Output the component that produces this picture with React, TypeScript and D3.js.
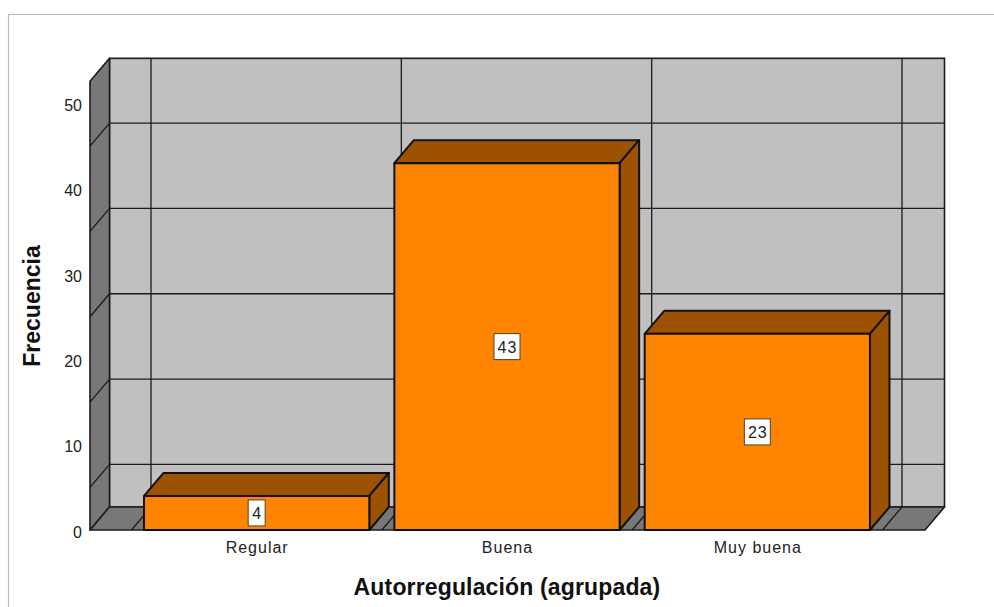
import React from "react";
import * as d3 from "d3";

const categories = ["Regular", "Buena", "Muy buena"];
const frequencies = [4, 43, 23];
const yTicks = [0, 10, 20, 30, 40, 50];
const gridValues = [5, 15, 25, 35, 45];
const xTitle = "Autorregulación (agrupada)";
const yTitle = "Frecuencia";

const W = 994, H = 607;
const left = 90, right = 925, bottom = 530;
const depthX = 19.5, depthY = 23;
const yMax = 52.6;
const font = "'Liberation Sans', Arial, sans-serif";
const ink = "#1c1c1c";

const y = d3.scaleLinear().domain([0, 50]).range([bottom, 103.5]);
const x = d3.scaleBand<string>().domain(categories).range([131.5, 882.5]).paddingInner(0.1).paddingOuter(0.05);
const poly = (pts: [number, number][]) => (d3.line()(pts) as string) + "Z";

export default function App() {
  const top = y(yMax);
  const bx = (v: number) => v + depthX;
  const by = (v: number) => v - depthY;
  const boundaries = [0, 1, 2, 3].map((i) => 131.5 + i * x.step());
  return (
    <svg width={W} height={H} style={{ position: "absolute", left: 0, top: 0, background: "#fff" }}>
      <path d={`M8.5,${H}V14.5H${W}`} fill="none" stroke="#bcbcbc" strokeWidth={1.2} />
      {/* back wall */}
      <rect x={bx(left)} y={by(top)} width={right - left} height={bottom - top} fill="#c0c0c0" stroke={ink} strokeWidth={1.6} />
      {/* side wall */}
      <path d={poly([[left, bottom], [left, top], [bx(left), by(top)], [bx(left), by(bottom)]])} fill="#787878" stroke={ink} strokeWidth={1.6} strokeLinejoin="round" />
      {/* floor */}
      <path d={poly([[left, bottom], [bx(left), by(bottom)], [bx(right), by(bottom)], [right, bottom]])} fill="#787878" stroke={ink} strokeWidth={1.6} strokeLinejoin="round" />
      {/* horizontal grid */}
      {gridValues.map((v) => (
        <path key={v} d={`M${left},${y(v)}L${bx(left)},${by(y(v))}H${bx(right)}`} fill="none" stroke={ink} strokeWidth={1.3} />
      ))}
      {/* vertical grid */}
      {boundaries.map((b) => (
        <path key={b} d={`M${b},${bottom}L${bx(b)},${by(bottom)}V${by(top)}`} fill="none" stroke={ink} strokeWidth={1.3} />
      ))}
      {/* bars */}
      {categories.map((c, i) => {
        const x0 = x(c) as number, x1 = x0 + x.bandwidth(), yv = y(frequencies[i]);
        return (
          <g key={c} stroke="#111" strokeWidth={2} strokeLinejoin="round">
            <path d={poly([[x0, yv], [bx(x0), by(yv)], [bx(x1), by(yv)], [x1, yv]])} fill="#9c5200" />
            <path d={poly([[x1, yv], [bx(x1), by(yv)], [bx(x1), by(bottom)], [x1, bottom]])} fill="#9c5200" />
            <rect x={x0} y={yv} width={x.bandwidth()} height={bottom - yv} fill="#ff8400" />
          </g>
        );
      })}
      {/* value labels */}
      {categories.map((c, i) => {
        const cx = (x(c) as number) + x.bandwidth() / 2, cy = (y(frequencies[i]) + bottom) / 2;
        const w = String(frequencies[i]).length > 1 ? 26 : 17;
        return (
          <g key={c}>
            <rect x={cx - w / 2} y={cy - 13} width={w} height={26} fill="#fff" stroke="#5a4020" strokeWidth={1} />
            <text x={cx + 0.5} y={cy + 6} textAnchor="middle" fontFamily={font} fontSize={16} fill="#222" letterSpacing={1}>{frequencies[i]}</text>
          </g>
        );
      })}
      {/* y tick labels */}
      {yTicks.map((t) => (
        <text key={t} x={82} y={y(t) + 7.6} textAnchor="end" fontFamily={font} fontSize={16} fill="#222">{t}</text>
      ))}
      {/* x tick labels */}
      {categories.map((c) => (
        <text key={c} x={(x(c) as number) + x.bandwidth() / 2 + 0.5} y={553} textAnchor="middle" fontFamily={font} fontSize={16} fill="#222" letterSpacing={1}>{c}</text>
      ))}
      <text x={507} y={595} textAnchor="middle" fontFamily={font} fontSize={23} fontWeight="bold" fill="#111" letterSpacing={0.15}>{xTitle}</text>
      <text transform="translate(40,306) rotate(-90)" textAnchor="middle" fontFamily={font} fontSize={23} fontWeight="bold" fill="#111">{yTitle}</text>
    </svg>
  );
}
